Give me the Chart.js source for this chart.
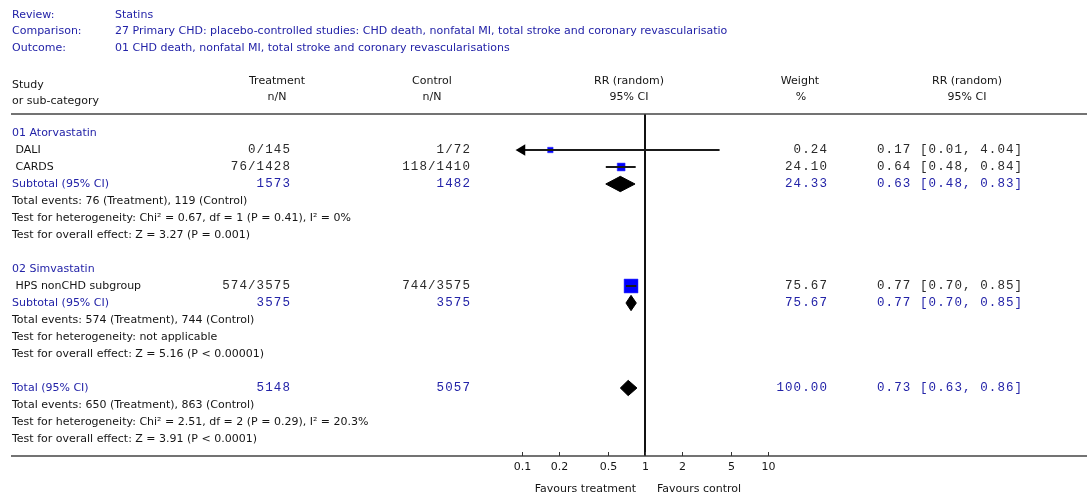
<!DOCTYPE html>
<html lang="en">
<head>
<meta charset="UTF-8">
<title>Statins - forest plot</title>
<script src="https://cdn.jsdelivr.net/npm/chart.js"></script>
<style>
  html, body { margin: 0; padding: 0; background: #fff; }
  #wrap { position: relative; width: 1087px; height: 497px; }
</style>
</head>
<body>
<div id="wrap"><canvas id="forest"></canvas></div>
<script>
// ---- values ----
const headerLabels = ['Review:', 'Comparison:', 'Outcome:'];
const headerValues = [
  'Statins',
  '27 Primary CHD: placebo-controlled studies: CHD death, nonfatal MI, total stroke and coronary revascularisatio',
  '01 CHD death, nonfatal MI, total stroke and coronary revascularisations'
];

const groupNames = ['01 Atorvastatin', '02 Simvastatin'];
const groupRows = [0, 8];

const studies = ['DALI', 'CARDS', 'HPS nonCHD subgroup'];
const studyRows = [1, 2, 9];
const treatment = ['0/145', '76/1428', '574/3575'];
const control = ['1/72', '118/1410', '744/3575'];
const weights = [0.24, 24.10, 75.67];
const rr = [0.17, 0.64, 0.77];
const rrLow = [0.01, 0.48, 0.70];
const rrHigh = [4.04, 0.84, 0.85];

const pooledNames = ['Subtotal (95% CI)', 'Subtotal (95% CI)', 'Total (95% CI)'];
const pooledRows = [3, 10, 15];
const pooledTreatment = ['1573', '3575', '5148'];
const pooledControl = ['1482', '3575', '5057'];
const pooledWeights = [24.33, 75.67, 100.00];
const pooledRR = [0.63, 0.77, 0.73];
const pooledLow = [0.48, 0.70, 0.63];
const pooledHigh = [0.83, 0.85, 0.86];

const noteRows = [4, 5, 6, 11, 12, 13, 16, 17, 18];
const notes = [
  'Total events: 76 (Treatment), 119 (Control)',
  'Test for heterogeneity: Chi\u00b2 = 0.67, df = 1 (P = 0.41), I\u00b2 = 0%',
  'Test for overall effect: Z = 3.27 (P = 0.001)',
  'Total events: 574 (Treatment), 744 (Control)',
  'Test for heterogeneity: not applicable',
  'Test for overall effect: Z = 5.16 (P < 0.00001)',
  'Total events: 650 (Treatment), 863 (Control)',
  'Test for heterogeneity: Chi\u00b2 = 2.51, df = 2 (P = 0.29), I\u00b2 = 20.3%',
  'Test for overall effect: Z = 3.91 (P < 0.0001)'
];

const axisTicks = [0.1, 0.2, 0.5, 1, 2, 5, 10];

// ---- layout ----
const W = 1087, H = 497;
const ROW0 = 133, ROW_H = 17;      // pixel of row 0 and row pitch
const ONE_X = 645, DECADE = 123;   // pixel of RR = 1 and width of one decade
const AXIS_ROW = 19, TOP_RULE_ROW = -1.12;
const BLUE = '#2323a8', INK = '#151515', NUM = '#2a2a2a';
const SANS = '11px "DejaVu Sans", Verdana, sans-serif';
const MONO = '12.5px "Liberation Mono", "Courier New", monospace';

const tickMin = Math.min(...axisTicks);
const fmt = v => v.toFixed(2);

// ---- datasets ----
const datasets = [];

// confidence interval lines (drawn on top)
studies.forEach((s, i) => {
  const lo = Math.max(rrLow[i], tickMin);
  const clipped = rrLow[i] < tickMin;
  datasets.push({
    data: [{ x: lo, y: studyRows[i] }, { x: rrHigh[i], y: studyRows[i] }],
    showLine: true,
    borderColor: '#1a1a1a',
    borderWidth: 2,
    pointStyle: 'triangle',
    rotation: -90,
    pointRadius: [clipped ? 4.5 : 0, 0],
    pointBackgroundColor: '#000',
    pointBorderColor: '#000',
    order: 0
  });
});

// study boxes, sized by weight
datasets.push({
  data: studies.map((s, i) => ({ x: rr[i], y: studyRows[i] })),
  pointStyle: 'rect',
  pointRadius: weights.map(w => Math.max(5.5, 1.6 * Math.sqrt(w)) / Math.SQRT2),
  backgroundColor: '#0000ff',
  borderColor: '#2a2aff',
  borderWidth: 0.5,
  order: 1
});

// pooled diamonds
pooledNames.forEach((s, i) => {
  const r = pooledRows[i], h = 0.45;
  datasets.push({
    data: [
      { x: pooledLow[i], y: r }, { x: pooledRR[i], y: r - h },
      { x: pooledHigh[i], y: r }, { x: pooledRR[i], y: r + h },
      { x: pooledLow[i], y: r }
    ],
    showLine: true,
    fill: 'shape',
    backgroundColor: '#000',
    borderColor: '#000',
    borderWidth: 1,
    pointRadius: 0,
    order: 1
  });
});

// line of no effect
datasets.push({
  data: [{ x: 1, y: TOP_RULE_ROW }, { x: 1, y: AXIS_ROW }],
  showLine: true,
  borderColor: '#111',
  borderWidth: 2,
  pointRadius: 0,
  order: 2
});

// ---- text and rules ----
const tablePlugin = {
  id: 'table',
  beforeDraw(chart) {
    const c = chart.ctx;
    c.save();
    c.fillStyle = '#fff';
    c.fillRect(0, 0, chart.width, chart.height);
    c.restore();
  },
  afterDraw(chart) {
    const c = chart.ctx;
    const xs = chart.scales.x, ys = chart.scales.y;
    const py = r => ys.getPixelForValue(r);
    const text = (s, x, y, font, color, align) => {
      c.font = font; c.fillStyle = color; c.textAlign = align || 'left';
      c.textBaseline = 'middle';
      c.letterSpacing = font === MONO ? '1.1px' : '0px';
      c.fillText(s, x, y);
    };
    c.save();

    // review header
    [15, 31.5, 48].forEach((y, i) => {
      text(headerLabels[i], 12, y, SANS, BLUE);
      text(headerValues[i], 115, y, SANS, BLUE);
    });

    // column headings
    text('Study', 12, 85, SANS, INK);
    text('or sub-category', 12, 101, SANS, INK);
    text('Treatment', 277, 81, SANS, INK, 'center');
    text('n/N', 277, 97, SANS, INK, 'center');
    text('Control', 432, 81, SANS, INK, 'center');
    text('n/N', 432, 97, SANS, INK, 'center');
    text('RR (random)', 629, 81, SANS, INK, 'center');
    text('95% CI', 629, 97, SANS, INK, 'center');
    text('Weight', 800, 81, SANS, INK, 'center');
    text('%', 801, 97, SANS, INK, 'center');
    text('RR (random)', 967, 81, SANS, INK, 'center');
    text('95% CI', 967, 97, SANS, INK, 'center');

    // rules
    c.strokeStyle = '#444';
    c.lineWidth = 1.6;
    [TOP_RULE_ROW, AXIS_ROW].forEach(r => {
      c.beginPath();
      c.moveTo(11, py(r)); c.lineTo(W, py(r));
      c.stroke();
    });

    groupNames.forEach((g, i) => text(g, 12, py(groupRows[i]), SANS, BLUE));

    studies.forEach((s, i) => {
      const y = py(studyRows[i]);
      text(' ' + s, 12, y, SANS, INK);
      text(treatment[i], 291, y, MONO, NUM, 'right');
      text(control[i], 471, y, MONO, NUM, 'right');
      text(fmt(weights[i]), 828, y, MONO, NUM, 'right');
      text(fmt(rr[i]) + ' [' + fmt(rrLow[i]) + ', ' + fmt(rrHigh[i]) + ']', 877, y, MONO, NUM);
    });

    pooledNames.forEach((s, i) => {
      const y = py(pooledRows[i]);
      text(s, 12, y, SANS, BLUE);
      text(pooledTreatment[i], 291, y, MONO, BLUE, 'right');
      text(pooledControl[i], 471, y, MONO, BLUE, 'right');
      text(fmt(pooledWeights[i]), 828, y, MONO, BLUE, 'right');
      text(fmt(pooledRR[i]) + ' [' + fmt(pooledLow[i]) + ', ' + fmt(pooledHigh[i]) + ']', 877, y, MONO, BLUE);
    });

    notes.forEach((n, i) => text(n, 12, py(noteRows[i]), SANS, INK));

    // log axis ticks
    const ay = py(AXIS_ROW);
    c.strokeStyle = '#333';
    c.lineWidth = 1;
    axisTicks.forEach(t => {
      const x = Math.round(xs.getPixelForValue(t)) + 0.5;
      c.beginPath();
      c.moveTo(x, ay - 4); c.lineTo(x, ay);
      c.stroke();
      text(String(t), x, ay + 11, SANS, INK, 'center');
    });
    const x1 = xs.getPixelForValue(1);
    text('Favours treatment', x1 - 9, ay + 33, SANS, INK, 'right');
    text('Favours control', x1 + 12, ay + 33, SANS, INK, 'left');

    c.restore();
  }
};

new Chart(document.getElementById('forest'), {
  type: 'scatter',
  data: { datasets },
  options: {
    responsive: true,
    maintainAspectRatio: false,
    animation: false,
    layout: { padding: 0, autoPadding: false },
    plugins: { legend: { display: false }, tooltip: { enabled: false } },
    scales: {
      x: {
        type: 'logarithmic',
        display: false,
        bounds: 'data',
        min: Math.pow(10, -ONE_X / DECADE),
        max: Math.pow(10, (W - ONE_X) / DECADE)
      },
      y: {
        type: 'linear',
        display: false,
        reverse: true,
        min: -ROW0 / ROW_H,
        max: (H - ROW0) / ROW_H
      }
    }
  },
  plugins: [tablePlugin]
});
</script>
</body>
</html>
